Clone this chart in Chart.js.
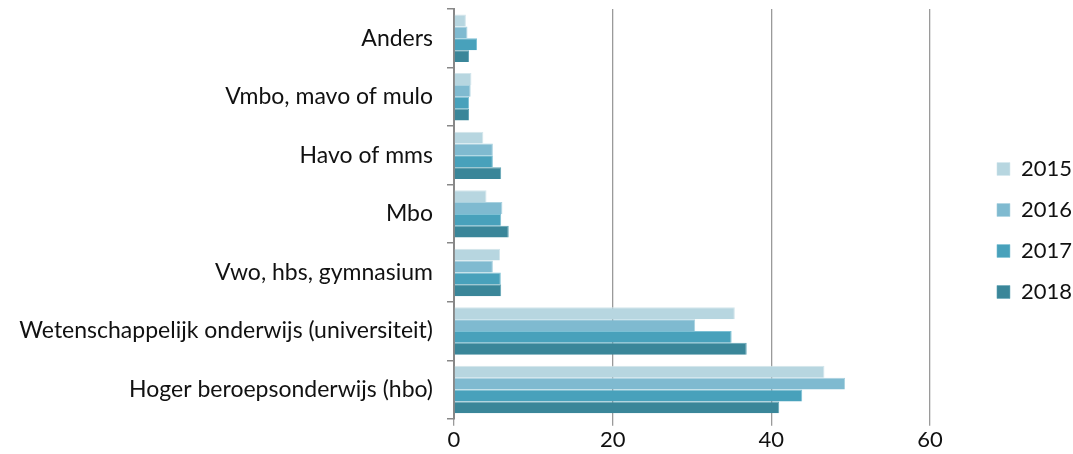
<!DOCTYPE html>
<html>
<head>
<meta charset="utf-8">
<script src="https://cdn.jsdelivr.net/npm/chart.js@4"></script>
<style>
    html, body { margin: 0; padding: 0; background: #fff; }
    #wrap { width: 1073px; height: 454px; }
</style>
</head>
<body>
<div id="wrap"><canvas id="canvas_opleiding"></canvas></div>
<script>
const categories = ['Anders', 'Vmbo, mavo of mulo', 'Havo of mms', 'Mbo', 'Vwo, hbs, gymnasium', 'Wetenschappelijk onderwijs (universiteit)', 'Hoger beroepsonderwijs (hbo)'];
const jaren = ['2015', '2016', '2017', '2018'];
const waarden_2015 = [1.5, 2.2, 3.7, 4.1, 5.8, 35.4, 46.7];
const waarden_2016 = [1.7, 2.1, 4.9, 6.1, 4.9, 30.4, 49.3];
const waarden_2017 = [2.9, 1.9, 4.9, 5.95, 5.9, 35.0, 43.9];
const waarden_2018 = [1.9, 1.9, 5.95, 6.9, 5.95, 36.9, 41.0];
const x_ticks = [0, 20, 40, 60];

const couleurs = ['#b7d6e0', '#7fbad0', '#48a1bb', '#3a8699'];
const bords = ['#d3e6ec', '#a9d1df', '#7cc0d4', '#5fa3b4'];
const series = [waarden_2015, waarden_2016, waarden_2017, waarden_2018];

let datasets = [];
for (let count = 0; count < jaren.length; count++) {
    datasets.push({
        label: jaren[count],
        data: series[count],
        backgroundColor: couleurs[count],
        borderColor: bords[count],
        borderWidth: {top: 1, right: 1, bottom: 0, left: 0},
        borderSkipped: false,
        categoryPercentage: 0.81,
        barPercentage: 1.0
    });
}

const font_family = "Lato, 'Open Sans', sans-serif";

// legend sits further right than Chart.js puts it
const decale_legende = {
    id: 'decale_legende',
    afterLayout: function (chart) {
        chart.legend.left += 48;
        chart.legend.right += 48;
        chart.legend.top -= 1;
        chart.legend.bottom -= 1;
    }
};

const graph = new Chart(document.getElementById('canvas_opleiding'), {
    type: 'bar',
    data: {
        labels: categories,
        datasets: datasets
    },
    plugins: [decale_legende],
    options: {
        indexAxis: 'y',
        responsive: true,
        maintainAspectRatio: false,
        animation: false,
        layout: {
            padding: {top: 9, right: 39, bottom: 0, left: 0}
        },
        plugins: {
            legend: {
                position: 'right',
                labels: {
                    boxWidth: 13,
                    boxHeight: 13,
                    padding: 19,
                    color: '#111',
                    font: {family: font_family, size: 22}
                }
            },
            tooltip: {enabled: false}
        },
        scales: {
            x: {
                min: 0,
                max: 60,
                afterBuildTicks: function (axis) {
                    axis.ticks = x_ticks.map(function (v) { return {value: v}; });
                },
                border: {display: false},
                grid: {
                    color: '#9a9a9a',
                    lineWidth: 1.3,
                    drawTicks: true,
                    tickLength: 7
                },
                ticks: {
                    color: '#111',
                    padding: 2,
                    font: {family: font_family, size: 22, lineHeight: 1.1}
                }
            },
            y: {
                afterFit: function (axis) {
                    axis.width = 454;
                    axis.paddingTop = 0;
                    axis.paddingBottom = 0;
                },
                border: {display: true, color: '#888', width: 2},
                grid: {
                    drawOnChartArea: false,
                    drawTicks: true,
                    tickLength: 7,
                    color: '#888',
                    lineWidth: 1.5,
                    offset: true
                },
                ticks: {
                    color: '#111',
                    padding: 14,
                    font: {family: font_family, size: 23}
                }
            }
        }
    }
});
</script>
</body>
</html>
